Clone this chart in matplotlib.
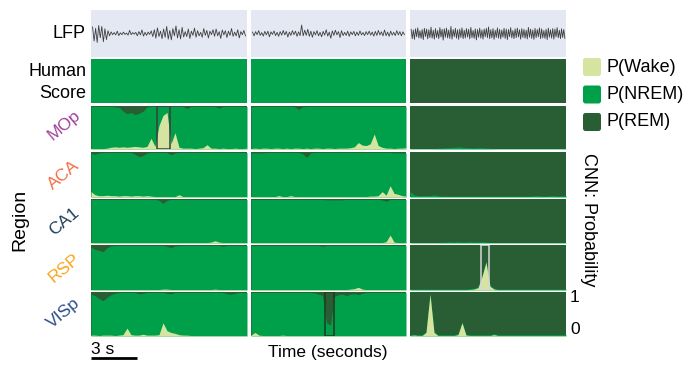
import numpy as np
import matplotlib

matplotlib.use("Agg")
import matplotlib.pyplot as plt
from matplotlib.patches import Rectangle, FancyBboxPatch

plt.rcParams["font.family"] = ["Liberation Sans", "DejaVu Sans"]

# ---------------------------------------------------------------- data ---- #
# LFP snippets, one per segment (arbitrary units)
LFP_1 = [0.28, -0.32, 0.22, -0.38, 0.34, -0.18, 0.30, -0.35, 0.20, -0.26,
         0.12, -0.10, 0.07, -0.05, 0.04, -0.06, 0.10, -0.09, 0.03, -0.05,
         0.06, -0.04, 0.02, -0.07, 0.13, -0.05, 0.04, -0.03, 0.05, -0.10,
         0.08, -0.06, 0.15, -0.11, 0.05, -0.08, 0.06, -0.04, 0.11, -0.13,
         0.16, -0.20, 0.24, -0.13, 0.10, -0.22, 0.19, -0.16, 0.30, -0.24,
         0.13, -0.27, 0.21, -0.10, 0.32, -0.19, 0.16, -0.23, 0.26, -0.15,
         0.08, -0.13, 0.19, -0.21, 0.10, -0.08, 0.23, -0.16, 0.12, -0.10,
         0.05, -0.16, 0.21, -0.08, 0.13, -0.19, 0.10, -0.05, 0.16, -0.12,
         0.19, -0.10, 0.08, -0.21, 0.15, -0.06, 0.12, -0.17, 0.10, -0.08,
         0.21, -0.12, 0.06, -0.10, 0.16, -0.19, 0.08, -0.05, 0.13, -0.10]
LFP_2 = [0.06, -0.10, 0.08, -0.05, 0.12, -0.08, 0.04, -0.11, 0.09, -0.06,
         0.10, -0.14, 0.07, -0.04, 0.11, -0.09, 0.05, -0.12, 0.08, -0.07,
         0.13, -0.06, 0.09, -0.15, 0.06, -0.08, 0.12, -0.05, 0.10, -0.12,
         0.07, -0.09, 0.36, -0.10, 0.14, -0.08, 0.18, -0.12, 0.10, -0.16,
         0.08, -0.06, 0.12, -0.10, 0.05, -0.14, 0.09, -0.07, 0.16, -0.11,
         0.06, -0.20, 0.11, -0.08, 0.14, -0.06, 0.08, -0.17, 0.12, -0.09,
         0.05, -0.08, 0.10, -0.12, 0.07, -0.05, 0.09, -0.10, 0.06, -0.08,
         0.11, -0.06, 0.04, -0.09, 0.08, -0.05, 0.10, -0.07, 0.06, -0.11,
         0.09, -0.08, 0.13, -0.06, 0.07, -0.10, 0.15, -0.09, 0.06, -0.12,
         0.10, -0.07, 0.05, -0.09, 0.12, -0.06, 0.08, -0.10, 0.07, -0.05]
LFP_3 = [0.18, -0.22, 0.15, -0.25, 0.20, -0.14, 0.24, -0.19, 0.12, -0.21,
         0.17, -0.26, 0.22, -0.13, 0.19, -0.23, 0.16, -0.18, 0.27, -0.20,
         0.14, -0.24, 0.21, -0.17, 0.13, -0.22, 0.25, -0.15, 0.18, -0.28,
         0.20, -0.16, 0.23, -0.19, 0.15, -0.21, 0.30, -0.24, 0.17, -0.14,
         0.22, -0.20, 0.16, -0.25, 0.19, -0.17, 0.24, -0.22, 0.14, -0.19,
         0.21, -0.15, 0.18, -0.23, 0.26, -0.18, 0.13, -0.21, 0.20, -0.27,
         0.17, -0.16, 0.23, -0.20, 0.15, -0.24, 0.19, -0.14, 0.22, -0.18,
         0.28, -0.22, 0.16, -0.19, 0.21, -0.25, 0.14, -0.17, 0.24, -0.20,
         0.18, -0.23, 0.15, -0.16, 0.22, -0.21, 0.19, -0.26, 0.17, -0.14,
         0.25, -0.19, 0.13, -0.22, 0.20, -0.18, 0.23, -0.15, 0.16, -0.24,
         0.21, -0.17, 0.18, -0.20, 0.14, -0.23, 0.26, -0.16, 0.19, -0.21,
         0.15, -0.25, 0.22, -0.18, 0.17, -0.14, 0.24, -0.22, 0.20, -0.19,
         0.13, -0.21, 0.18, -0.26, 0.23, -0.16, 0.16, -0.20, 0.21, -0.24,
         0.19, -0.15, 0.25, -0.18, 0.14, -0.22, 0.20, -0.17, 0.17, -0.21]
LFP = [LFP_1, LFP_2, LFP_3]

# human-scored state per segment
HUMAN_SCORE = ["NREM", "NREM", "REM"]

REGIONS = ["MOp", "ACA", "CA1", "RSP", "VISp"]

# CNN probabilities per region: [segment 1, segment 2, segment 3]
# P(NREM) is whatever remains after P(Wake) and P(REM)
MOP_WAKE = [
    [0.01, 0.01, 0.01, 0.01, 0.02, 0.04, 0.05, 0.04, 0.05, 0.04,
     0.05, 0.06, 0.05, 0.04, 0.06, 0.25, 0.06, 0.55, 0.78, 0.85,
     0.12, 0.38, 0.04, 0.02, 0.02, 0.02, 0.01, 0.02, 0.03, 0.10,
     0.02, 0.02, 0.01, 0.02, 0.01, 0.01, 0.02, 0.01, 0.01, 0.02],
    [0.01, 0.02, 0.01, 0.02, 0.02, 0.01, 0.02, 0.02, 0.01, 0.02,
     0.01, 0.02, 0.02, 0.01, 0.02, 0.01, 0.02, 0.02, 0.01, 0.02,
     0.02, 0.01, 0.02, 0.02, 0.02, 0.03, 0.05, 0.15, 0.09, 0.08,
     0.12, 0.35, 0.08, 0.04, 0.02, 0.02, 0.01, 0.02, 0.02, 0.03],
    [0.0] * 40,
]
MOP_REM = [
    [0.01, 0.01, 0.01, 0.01, 0.01, 0.01, 0.02, 0.03, 0.12, 0.18,
     0.15, 0.20, 0.17, 0.12, 0.02, 0.01, 0.01, 0.01, 0.01, 0.01,
     0.01, 0.01, 0.01, 0.01, 0.06, 0.01, 0.01, 0.01, 0.01, 0.01,
     0.01, 0.01, 0.05, 0.01, 0.01, 0.01, 0.01, 0.01, 0.01, 0.01],
    [0.02, 0.01, 0.01, 0.01, 0.01, 0.01, 0.01, 0.01, 0.01, 0.01,
     0.01, 0.02, 0.08, 0.02, 0.01, 0.01, 0.01, 0.01, 0.01, 0.01,
     0.01, 0.01, 0.01, 0.01, 0.01, 0.01, 0.01, 0.01, 0.01, 0.01,
     0.01, 0.01, 0.01, 0.01, 0.01, 0.01, 0.01, 0.01, 0.01, 0.01],
    [0.99, 0.99, 0.99, 0.99, 0.99, 0.99, 0.99, 0.98, 0.98, 0.97,
     0.97, 0.96, 0.95, 0.96, 0.97, 0.97, 0.98, 0.97, 0.97, 0.98,
     0.98, 0.99, 0.99, 0.99, 0.99, 0.99, 0.99, 0.99, 0.99, 0.99,
     0.99, 0.99, 0.99, 0.99, 0.99, 0.99, 0.99, 0.99, 0.99, 0.99],
]
ACA_WAKE = [
    [0.12, 0.05, 0.03, 0.03, 0.04, 0.03, 0.03, 0.02, 0.03, 0.03,
     0.02, 0.03, 0.03, 0.02, 0.03, 0.02, 0.01, 0.01, 0.01, 0.01,
     0.01, 0.01, 0.05, 0.01, 0.01, 0.01, 0.01, 0.01, 0.01, 0.01,
     0.01, 0.01, 0.01, 0.01, 0.01, 0.01, 0.01, 0.01, 0.01, 0.01],
    [0.01, 0.01, 0.01, 0.01, 0.01, 0.01, 0.01, 0.03, 0.01, 0.01,
     0.03, 0.01, 0.01, 0.01, 0.01, 0.01, 0.01, 0.01, 0.01, 0.01,
     0.01, 0.01, 0.01, 0.01, 0.01, 0.01, 0.01, 0.01, 0.01, 0.01,
     0.02, 0.02, 0.03, 0.12, 0.04, 0.25, 0.08, 0.06, 0.03, 0.02],
    [0.0] * 40,
]
ACA_REM = [
    [0.03, 0.05, 0.02, 0.01, 0.01, 0.01, 0.01, 0.01, 0.01, 0.01,
     0.01, 0.05, 0.10, 0.08, 0.02, 0.01, 0.01, 0.01, 0.01, 0.01,
     0.06, 0.02, 0.01, 0.01, 0.01, 0.01, 0.01, 0.01, 0.01, 0.01,
     0.01, 0.01, 0.01, 0.01, 0.01, 0.01, 0.01, 0.01, 0.01, 0.01],
    [0.02, 0.02, 0.02, 0.02, 0.01, 0.01, 0.01, 0.01, 0.01, 0.01,
     0.01, 0.01, 0.01, 0.04, 0.12, 0.02, 0.01, 0.01, 0.01, 0.01,
     0.01, 0.01, 0.01, 0.01, 0.01, 0.01, 0.01, 0.01, 0.01, 0.01,
     0.01, 0.01, 0.01, 0.01, 0.01, 0.01, 0.02, 0.02, 0.02, 0.02],
    [0.88, 0.95, 0.97, 0.97, 0.97, 0.97, 0.95, 0.97, 0.98, 0.98,
     0.98, 0.98, 0.98, 0.98, 0.98, 0.98, 0.98, 0.98, 0.98, 0.98,
     0.98, 0.98, 0.98, 0.98, 0.98, 0.98, 0.98, 0.98, 0.98, 0.98,
     0.98, 0.97, 0.97, 0.98, 0.98, 0.97, 0.97, 0.98, 0.97, 0.97],
]
CA1_WAKE = [
    [0.01, 0.01, 0.01, 0.01, 0.01, 0.01, 0.01, 0.01, 0.01, 0.01,
     0.01, 0.01, 0.01, 0.01, 0.01, 0.01, 0.01, 0.01, 0.01, 0.01,
     0.01, 0.01, 0.01, 0.01, 0.01, 0.01, 0.01, 0.01, 0.01, 0.01,
     0.02, 0.05, 0.02, 0.01, 0.01, 0.01, 0.01, 0.01, 0.01, 0.01],
    [0.01, 0.01, 0.01, 0.01, 0.01, 0.01, 0.01, 0.01, 0.01, 0.01,
     0.01, 0.01, 0.01, 0.01, 0.01, 0.01, 0.01, 0.01, 0.01, 0.01,
     0.01, 0.01, 0.01, 0.01, 0.01, 0.01, 0.01, 0.01, 0.01, 0.01,
     0.01, 0.01, 0.01, 0.01, 0.03, 0.18, 0.02, 0.01, 0.01, 0.01],
    [0.0] * 40,
]
CA1_REM = [
    [0.01, 0.01, 0.01, 0.01, 0.01, 0.01, 0.01, 0.01, 0.01, 0.01,
     0.01, 0.01, 0.01, 0.01, 0.01, 0.01, 0.01, 0.03, 0.10, 0.03,
     0.01, 0.01, 0.01, 0.01, 0.01, 0.01, 0.01, 0.01, 0.01, 0.01,
     0.01, 0.01, 0.01, 0.01, 0.01, 0.01, 0.01, 0.01, 0.01, 0.01],
    [0.01, 0.01, 0.01, 0.01, 0.01, 0.01, 0.01, 0.01, 0.01, 0.01,
     0.01, 0.01, 0.01, 0.01, 0.01, 0.01, 0.01, 0.01, 0.01, 0.02,
     0.02, 0.02, 0.02, 0.02, 0.01, 0.01, 0.01, 0.01, 0.01, 0.01,
     0.01, 0.01, 0.01, 0.02, 0.05, 0.01, 0.01, 0.01, 0.01, 0.01],
    [0.99, 0.99, 0.99, 0.99, 0.99, 0.99, 0.99, 0.99, 0.98, 0.98,
     0.97, 0.98, 0.97, 0.98, 0.98, 0.97, 0.98, 0.98, 0.97, 0.98,
     0.99, 0.99, 0.99, 0.99, 0.99, 0.99, 0.99, 0.99, 0.99, 0.99,
     0.99, 0.99, 0.99, 0.99, 0.99, 0.99, 0.99, 0.99, 0.99, 0.99],
]
RSP_WAKE = [
    [0.01, 0.01, 0.01, 0.01, 0.01, 0.01, 0.01, 0.01, 0.01, 0.01,
     0.01, 0.01, 0.01, 0.01, 0.01, 0.01, 0.01, 0.01, 0.02, 0.02,
     0.01, 0.01, 0.01, 0.01, 0.01, 0.01, 0.01, 0.01, 0.01, 0.01,
     0.01, 0.02, 0.01, 0.01, 0.01, 0.01, 0.01, 0.01, 0.01, 0.01],
    [0.01, 0.01, 0.01, 0.01, 0.01, 0.01, 0.01, 0.01, 0.01, 0.01,
     0.01, 0.01, 0.01, 0.01, 0.01, 0.01, 0.01, 0.01, 0.01, 0.01,
     0.01, 0.01, 0.01, 0.01, 0.01, 0.02, 0.03, 0.06, 0.02, 0.01,
     0.01, 0.01, 0.01, 0.01, 0.01, 0.01, 0.01, 0.01, 0.01, 0.01],
    [0.0, 0.0, 0.0, 0.0, 0.0, 0.0, 0.0, 0.0, 0.0, 0.0,
     0.0, 0.0, 0.0, 0.0, 0.0, 0.01, 0.02, 0.05, 0.30, 0.62,
     0.08, 0.02, 0.0, 0.0, 0.0, 0.0, 0.0, 0.0, 0.0, 0.0,
     0.0, 0.0, 0.0, 0.0, 0.0, 0.0, 0.0, 0.0, 0.0, 0.0],
]
RSP_REM = [
    [0.05, 0.10, 0.12, 0.15, 0.06, 0.02, 0.01, 0.01, 0.01, 0.01,
     0.01, 0.01, 0.01, 0.01, 0.01, 0.01, 0.01, 0.01, 0.01, 0.03,
     0.06, 0.02, 0.01, 0.01, 0.01, 0.01, 0.01, 0.01, 0.01, 0.01,
     0.01, 0.01, 0.01, 0.03, 0.01, 0.01, 0.01, 0.01, 0.01, 0.01],
    [0.01, 0.01, 0.01, 0.01, 0.01, 0.01, 0.01, 0.01, 0.01, 0.01,
     0.01, 0.01, 0.01, 0.01, 0.01, 0.01, 0.01, 0.01, 0.03, 0.01,
     0.01, 0.01, 0.01, 0.01, 0.01, 0.01, 0.01, 0.01, 0.01, 0.01,
     0.01, 0.01, 0.01, 0.01, 0.01, 0.01, 0.01, 0.01, 0.01, 0.01],
    [0.98, 0.98, 0.98, 0.98, 0.98, 0.98, 0.98, 0.98, 0.98, 0.98,
     0.98, 0.98, 0.98, 0.98, 0.98, 0.97, 0.96, 0.93, 0.68, 0.36,
     0.90, 0.96, 0.98, 0.98, 0.98, 0.98, 0.98, 0.98, 0.98, 0.98,
     0.98, 0.98, 0.98, 0.98, 0.98, 0.98, 0.98, 0.98, 0.98, 0.98],
]
VISP_WAKE = [
    [0.02, 0.02, 0.01, 0.02, 0.02, 0.02, 0.01, 0.02, 0.03, 0.18,
     0.03, 0.02, 0.02, 0.04, 0.02, 0.02, 0.02, 0.03, 0.30, 0.12,
     0.08, 0.06, 0.03, 0.02, 0.02, 0.01, 0.01, 0.01, 0.01, 0.01,
     0.01, 0.01, 0.01, 0.01, 0.01, 0.01, 0.01, 0.01, 0.01, 0.01],
    [0.02, 0.08, 0.02, 0.01, 0.01, 0.01, 0.01, 0.01, 0.02, 0.01,
     0.01, 0.01, 0.01, 0.01, 0.01, 0.01, 0.01, 0.01, 0.01, 0.01,
     0.01, 0.01, 0.01, 0.01, 0.01, 0.01, 0.01, 0.01, 0.01, 0.01,
     0.01, 0.01, 0.01, 0.01, 0.01, 0.01, 0.01, 0.01, 0.01, 0.01],
    [0.01, 0.02, 0.01, 0.01, 0.08, 0.95, 0.08, 0.01, 0.01, 0.01,
     0.01, 0.01, 0.03, 0.30, 0.02, 0.01, 0.01, 0.01, 0.01, 0.01,
     0.01, 0.03, 0.01, 0.01, 0.01, 0.01, 0.01, 0.01, 0.01, 0.01,
     0.01, 0.01, 0.01, 0.01, 0.01, 0.01, 0.01, 0.01, 0.01, 0.01],
]
VISP_REM = [
    [0.05, 0.08, 0.15, 0.20, 0.12, 0.06, 0.03, 0.01, 0.01, 0.01,
     0.01, 0.01, 0.04, 0.03, 0.01, 0.01, 0.01, 0.01, 0.01, 0.03,
     0.04, 0.01, 0.01, 0.01, 0.01, 0.01, 0.01, 0.01, 0.01, 0.01,
     0.01, 0.01, 0.01, 0.01, 0.04, 0.05, 0.03, 0.01, 0.01, 0.01],
    [0.01, 0.01, 0.01, 0.01, 0.01, 0.01, 0.01, 0.01, 0.01, 0.01,
     0.01, 0.01, 0.01, 0.01, 0.01, 0.01, 0.02, 0.05, 0.08, 0.70,
     0.75, 0.10, 0.06, 0.05, 0.08, 0.05, 0.04, 0.06, 0.03, 0.01,
     0.01, 0.01, 0.01, 0.01, 0.01, 0.01, 0.01, 0.01, 0.01, 0.01],
    [0.97, 0.96, 0.97, 0.97, 0.90, 0.04, 0.90, 0.97, 0.97, 0.97,
     0.97, 0.97, 0.95, 0.68, 0.96, 0.97, 0.97, 0.97, 0.97, 0.97,
     0.97, 0.95, 0.97, 0.97, 0.97, 0.97, 0.97, 0.97, 0.97, 0.97,
     0.97, 0.97, 0.97, 0.97, 0.97, 0.97, 0.97, 0.97, 0.97, 0.97],
]
P_WAKE = [MOP_WAKE, ACA_WAKE, CA1_WAKE, RSP_WAKE, VISP_WAKE]
P_REM = [MOP_REM, ACA_REM, CA1_REM, RSP_REM, VISP_REM]

# --------------------------------------------------------------- style ---- #
C_WAKE = "#d5e4a1"
C_NREM = "#00a04b"
C_REM = "#295d33"
STATE_COLORS = {"Wake": C_WAKE, "NREM": C_NREM, "REM": C_REM}
LFP_BG = "#e3e8f2"
REGION_COLORS = ["#a0429b", "#f26d45", "#1d3c56", "#f9a51d", "#2c4f8c"]

W, H = 689, 365
COL_X = [(91, 247), (251, 406), (410, 566)]
ROW_Y = [(10, 57), (59, 103), (106, 149), (152, 197),
         (199, 243), (245, 290), (292, 336)]

# highlighted windows: (region row, segment, start, end) in sample units
HIGHLIGHTS = [(0, 0, 16.4, 19.8, "#3d3d3d"),
              (4, 1, 18.5, 20.8, "#1f3a23"),
              (3, 2, 17.7, 19.7, "#d8d8d8")]


def rect(x0, y0, x1, y1):
    return [x0 / W, 1 - y1 / H, (x1 - x0) / W, (y1 - y0) / H]


def bare(ax):
    ax.set_xticks([])
    ax.set_yticks([])
    for s in ax.spines.values():
        s.set_visible(False)


fig = plt.figure(figsize=(W / 100, H / 100), dpi=100)

for c, (x0, x1) in enumerate(COL_X):
    # LFP strip
    ax = fig.add_axes(rect(x0, ROW_Y[0][0], x1, ROW_Y[0][1]))
    ax.set_facecolor(LFP_BG)
    sig = np.asarray(LFP[c])
    ax.plot(np.arange(len(sig)), sig, color="#3f3f3f", lw=0.6)
    ax.set_xlim(-1, len(sig))
    ax.set_ylim(-1, 1)
    bare(ax)

    # human score strip
    ax = fig.add_axes(rect(x0, ROW_Y[1][0], x1, ROW_Y[1][1]))
    ax.set_facecolor(STATE_COLORS[HUMAN_SCORE[c]])
    bare(ax)

    # CNN probability strips
    for r in range(len(REGIONS)):
        y0, y1 = ROW_Y[r + 2]
        ax = fig.add_axes(rect(x0, y0, x1, y1))
        wake = np.asarray(P_WAKE[r][c])
        rem = np.asarray(P_REM[r][c])
        t = np.arange(len(wake))
        ax.set_facecolor(C_REM)
        ax.fill_between(t, 0, 1 - rem, color=C_NREM, lw=0)
        ax.fill_between(t, 0, wake, color=C_WAKE, lw=0)
        ax.set_xlim(0, len(wake) - 1)
        ax.set_ylim(0, 1)
        bare(ax)
        for hr, hc, hs, he, ec in HIGHLIGHTS:
            if hr == r and hc == c:
                ax.add_patch(Rectangle((hs, 0.005), he - hs, 0.99, fill=False,
                                       ec=ec, lw=1.1, zorder=5))

# labels, legend and scale bar in pixel space
ov = fig.add_axes([0, 0, 1, 1])
ov.set_xlim(0, W)
ov.set_ylim(H, 0)
ov.set_axis_off()

ov.text(86, 34, "LFP", ha="right", va="center", fontsize=13)
ov.text(86, 72, "Human", ha="right", va="center", fontsize=13)
ov.text(86, 93, "Score", ha="right", va="center", fontsize=13)
label_y = [125, 175, 222, 268, 313]
for name, col, ly in zip(REGIONS, REGION_COLORS, label_y):
    ov.text(64, ly, name, color=col, ha="center", va="center",
            rotation=40, fontsize=12.5)
ov.text(20, 220, "Region", rotation=90, ha="center", va="center", fontsize=14)

for i, state in enumerate(["Wake", "NREM", "REM"]):
    yc = 67 + i * 27.5
    ov.add_patch(FancyBboxPatch((583, yc - 9), 18, 18,
                                boxstyle="round,pad=0,rounding_size=2.5",
                                fc=STATE_COLORS[state], ec="none"))
    ov.text(606, yc, f"P({state})", ha="left", va="center", fontsize=13)

ov.text(589, 220, "CNN: Probability", rotation=-90, ha="center", va="center",
        fontsize=13)
ov.text(570, 297, "1", ha="left", va="center", fontsize=12.5)
ov.text(570, 330, "0", ha="left", va="center", fontsize=12.5)

ov.plot([91, 137], [358, 358], color="black", lw=2, solid_capstyle="butt")
ov.text(91, 349, "3 s", ha="left", va="center", fontsize=12.5)
ov.text(328, 353, "Time (seconds)", ha="center", va="center", fontsize=12.5)

fig.savefig("out.png", dpi=100, facecolor="white")
